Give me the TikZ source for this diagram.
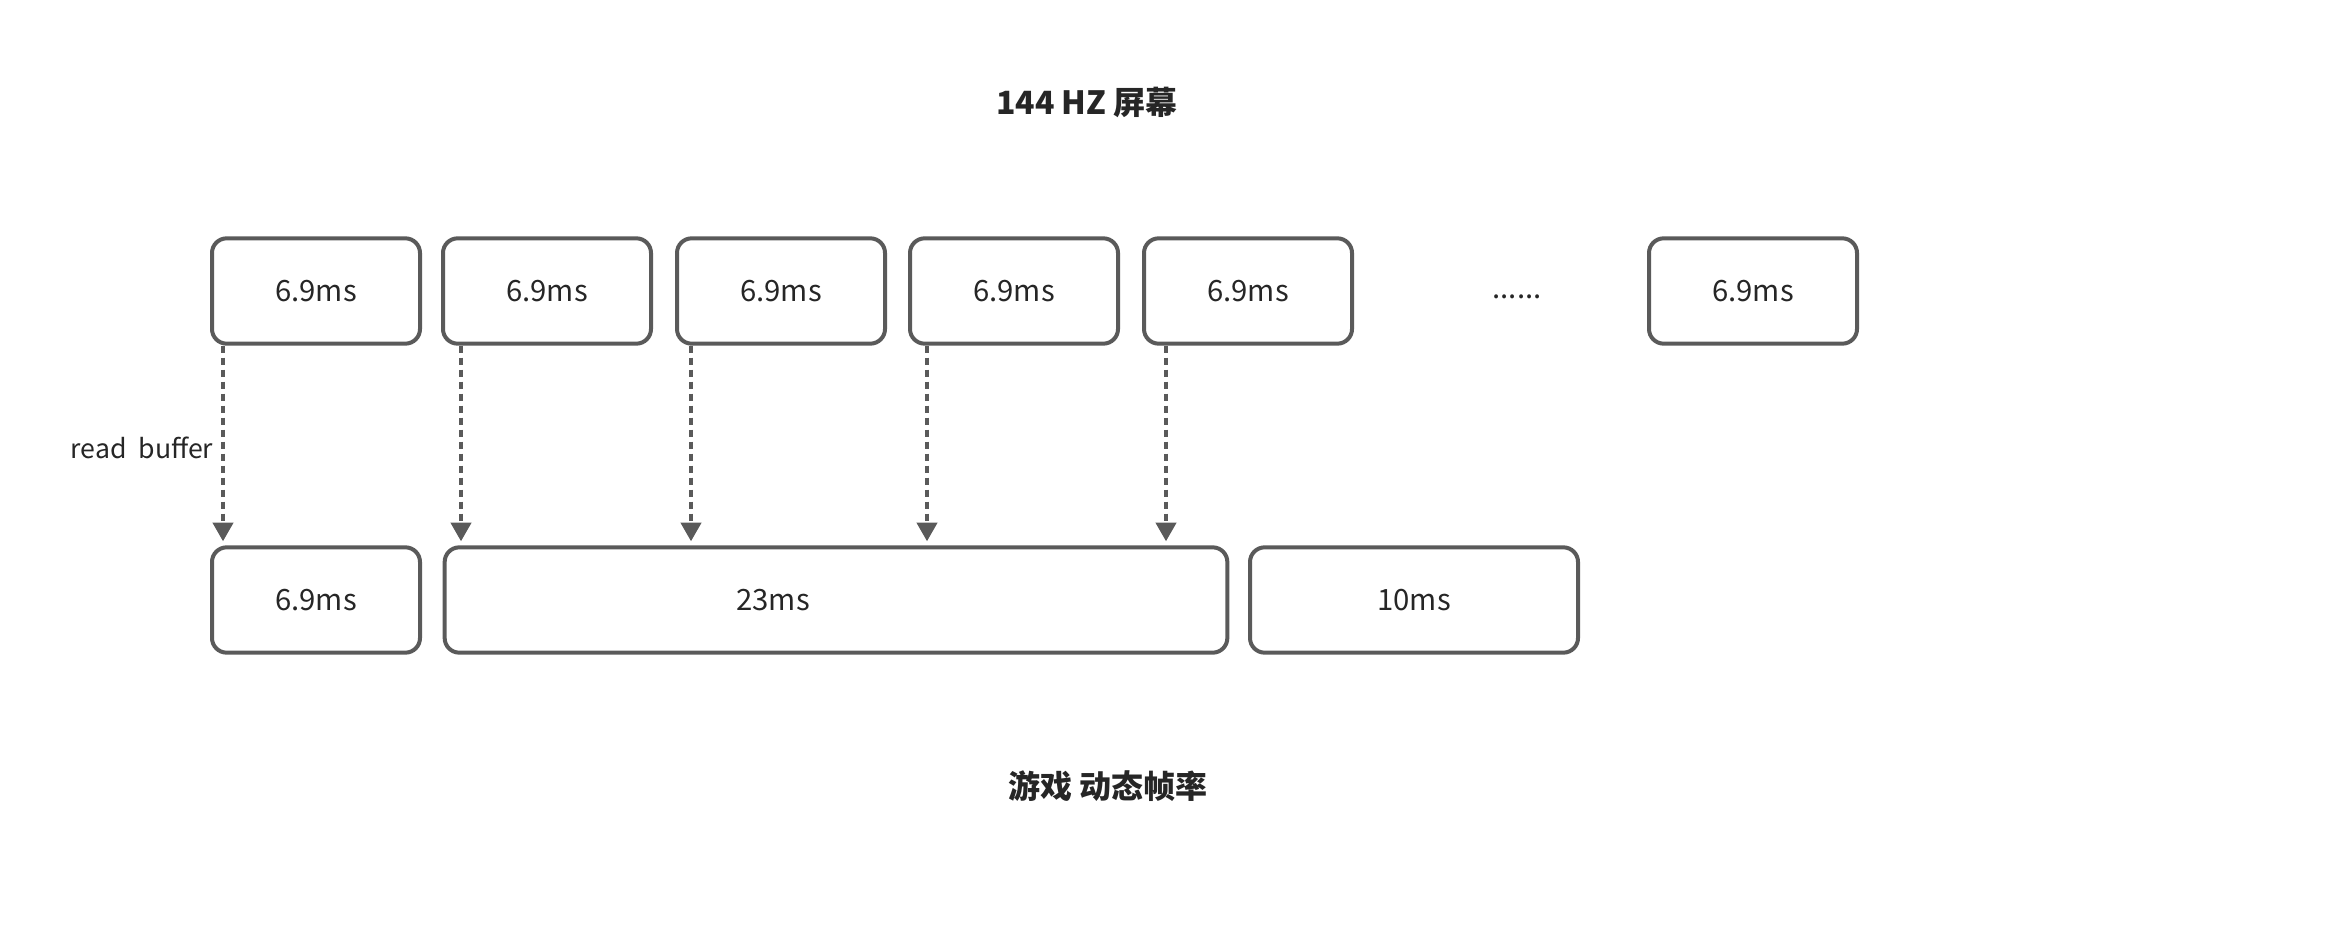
\documentclass[tikz,border=0pt]{standalone}
\usepackage{fontspec}
\setmainfont{Noto Sans CJK SC}
\usetikzlibrary{arrows.meta}
\definecolor{edgegray}{HTML}{5A5A5A}
\definecolor{inkgray}{HTML}{262626}
\tikzset{
  slot/.style={draw=edgegray, line width=3pt, rounded corners=11pt, minimum width=156pt,
    minimum height=79pt, inner sep=0pt, text=inkgray, font=\fontsize{22}{26}\selectfont},
  tag/.style={text=inkgray, inner sep=0pt},
  readline/.style={edgegray, line width=3pt, dash pattern=on 5.5pt off 3.5pt,
    -{Triangle[width=15pt,length=14pt]}, shorten >=3pt},
}
\begin{document}
\begin{tikzpicture}[x=0.75pt,y=-0.75pt]
\useasboundingbox (0,0) rectangle (2344,938);
% titles
\node[tag, font=\fontsize{24}{28}\selectfont\bfseries] (screen) at (1087,102) {144 HZ 屏幕};
\node[tag, font=\fontsize{24}{28}\selectfont\bfseries] (game) at (1108,786) {游戏 动态帧率};
% screen refresh slots
\node[slot] (t1) at (316,291) {6.9ms};
\node[slot] (t2) at (547,291) {6.9ms};
\node[slot] (t3) at (781,291) {6.9ms};
\node[slot] (t4) at (1014,291) {6.9ms};
\node[slot] (t5) at (1248,291) {6.9ms};
\node[tag, font=\fontsize{22}{26}\selectfont] (dots) at (1517,297) {......};
\node[slot] (t6) at (1753,291) {6.9ms};
% game frames
\node[slot] (b1) at (316,600) {6.9ms};
\node[slot, minimum width=587pt] (b2) at (836,600) {};
\node[tag, font=\fontsize{22}{26}\selectfont] (b2text) at (773,600) {23ms};
\node[slot, minimum width=246pt] (b3) at (1414,600) {10ms};
% read buffer
\foreach \t/\b/\x in {t1/b1/223, t2/b2/461, t3/b2/691, t4/b2/927, t5/b2/1166}
  \draw[readline] (\t.south -| \x,0) -- (\b.north -| \x,0);
\node[tag, font=\fontsize{20}{24}\selectfont] (read) at (142,448) {read\ \ buffer};
\end{tikzpicture}
\end{document}
